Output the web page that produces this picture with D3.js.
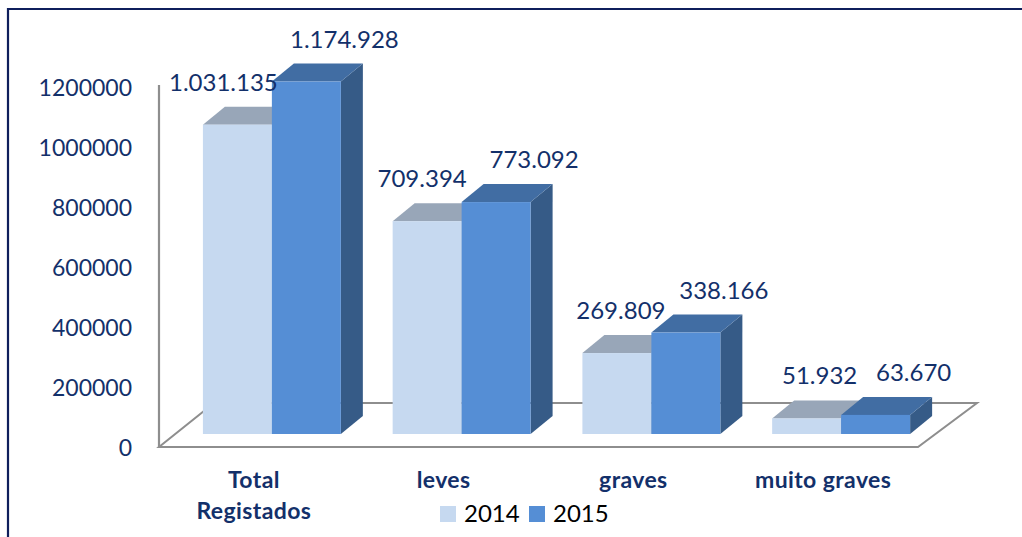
<!DOCTYPE html>
<html>
<head>
<meta charset="utf-8">
<script src="https://cdn.jsdelivr.net/npm/d3@7/dist/d3.min.js"></script>
<style>
  html, body { margin: 0; padding: 0; background: #fff; }
  svg { display: block; }
  text { font-family: Lato, "Open Sans", sans-serif; }
</style>
</head>
<body>
<svg id="chart" width="1022" height="537"></svg>
<script>
// Categories, series and values
const categories = [["Total", "Registados"], ["leves"], ["graves"], ["muito graves"]];
const seriesNames = ["2014", "2015"];
const values2014 = [1031135, 709394, 269809, 51932];
const values2015 = [1174928, 773092, 338166, 63670];
const yTicks = [0, 200000, 400000, 600000, 800000, 1000000, 1200000];

const W = 1022, H = 537;
const navy = "#13306a";
const gridGray = "#8e8e8e";

// Face colours per series: front, top, side
const palette = {
  "2014": { front: "#c6d9f0", top: "#98a6b8", side: "#7f95b3" },
  "2015": { front: "#558ed5", top: "#416da3", side: "#365b87" }
};

const svg = d3.select("#chart");

// Frame lines (top and left)
svg.append("line").attr("x1", 7).attr("x2", W).attr("y1", 9).attr("y2", 9)
  .attr("stroke", "#0f1f5c").attr("stroke-width", 2.2);
svg.append("line").attr("x1", 8).attr("x2", 8).attr("y1", 8).attr("y2", H)
  .attr("stroke", "#0f1f5c").attr("stroke-width", 2.2);

// Scales
const plotLeft = 159, plotRight = 918;
const y = d3.scaleLinear().domain([0, 1200000]).range([448, 88]);
const catKeys = categories.map(c => c.join(" "));
const x0 = d3.scaleBand().domain(catKeys).range([plotLeft, plotRight]).padding(0);
const groupW = x0.bandwidth() * 0.727;
const x1 = d3.scaleBand().domain(seriesNames).range([0, groupW]).padding(0);

// 3D projection parameters
const floorFront = 447;
const floorDepth = { dxL: 55, dxR: 59, dy: -44 };
const planeShift = { dx: 18, dy: -14 };   // front plane of the bars inside the floor
const barDepth = { dx: 22, dy: -18 };

// Floor
const floorPts = [
  [plotLeft, floorFront],
  [plotRight, floorFront],
  [plotRight + floorDepth.dxR, floorFront + floorDepth.dy],
  [plotLeft + floorDepth.dxL, floorFront + floorDepth.dy]
];
svg.append("polygon")
  .attr("points", floorPts.map(p => p.join(",")).join(" "))
  .attr("fill", "#fff").attr("stroke", gridGray).attr("stroke-width", 2)
  .attr("stroke-linejoin", "miter");

// Value axis
const yAxis = d3.axisLeft(y).tickValues(yTicks).tickFormat(d3.format("d"))
  .tickSize(0).tickSizeOuter(0).tickPadding(27);
const gAxis = svg.append("g").attr("transform", `translate(${plotLeft},0)`).call(yAxis);
gAxis.select(".domain").attr("stroke", gridGray).attr("stroke-width", 2.2)
  .attr("d", `M0,${floorFront}V85`);
gAxis.selectAll(".tick text")
  .attr("fill", navy).style("font-size", "23px").style("font-family", "Lato, sans-serif");

// Bars
const rows = catKeys.map((k, i) => ({ key: k, i, vals: { "2014": values2014[i], "2015": values2015[i] } }));
const baseY = y(0) + planeShift.dy;

const labelOffset = { "2014": (i) => -14 + 9 * i, "2015": () => 38 };

rows.forEach(r => {
  const g = svg.append("g");
  seriesNames.forEach(s => {
    const v = r.vals[s];
    const bx = x0(r.key) + (x0.bandwidth() - groupW) / 2 + planeShift.dx + x1(s);
    const bw = x1.bandwidth();
    const topY = y(v) + planeShift.dy;
    const c = palette[s];
    const dx = barDepth.dx, dy = barDepth.dy;
    // side face
    g.append("polygon")
      .attr("points", [[bx + bw, topY], [bx + bw + dx, topY + dy], [bx + bw + dx, baseY + dy], [bx + bw, baseY]]
        .map(p => p.join(",")).join(" "))
      .attr("fill", c.side);
    // top face
    g.append("polygon")
      .attr("points", [[bx, topY], [bx + dx, topY + dy], [bx + bw + dx, topY + dy], [bx + bw, topY]]
        .map(p => p.join(",")).join(" "))
      .attr("fill", c.top);
    // front face
    g.append("rect").attr("x", bx).attr("y", topY).attr("width", bw).attr("height", baseY - topY)
      .attr("fill", c.front);
  });
});

// Value labels
const fmt = v => d3.format(",")(v).replace(/,/g, ".");
rows.forEach(r => {
  seriesNames.forEach(s => {
    const v = r.vals[s];
    const bx = x0(r.key) + (x0.bandwidth() - groupW) / 2 + planeShift.dx + x1(s);
    const topY = y(v) + planeShift.dy;
    svg.append("text")
      .attr("x", bx + x1.bandwidth() / 2 + labelOffset[s](r.i))
      .attr("y", topY - 34)
      .attr("text-anchor", "middle")
      .attr("fill", navy)
      .style("font-size", "24px")
      .text(fmt(v));
  });
});

// Category labels
categories.forEach((lines, i) => {
  const cx = x0(catKeys[i]) + x0.bandwidth() / 2;
  const t = svg.append("text").attr("text-anchor", "middle").attr("fill", navy)
    .style("font-size", "23px").style("font-weight", "bold").style("letter-spacing", "0.4px");
  lines.forEach((ln, j) => {
    t.append("tspan").attr("x", cx).attr("y", 488 + j * 31).text(ln);
  });
});

// Legend
const legendItems = [{ name: "2014", x: 440 }, { name: "2015", x: 529 }];
legendItems.forEach(it => {
  svg.append("rect").attr("x", it.x).attr("y", 506).attr("width", 16).attr("height", 16)
    .attr("fill", palette[it.name].front);
  svg.append("text").attr("x", it.x + 24).attr("y", 522).attr("fill", "#000")
    .style("font-size", "24px").text(it.name);
});
</script>
</body>
</html>
